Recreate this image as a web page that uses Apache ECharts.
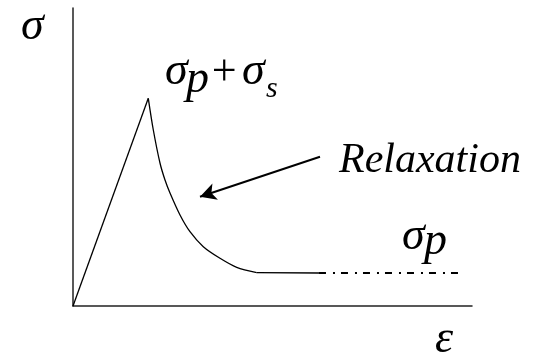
<!DOCTYPE html>
<html>
<head>
<meta charset="utf-8">
<script src="https://cdn.jsdelivr.net/npm/echarts@6/dist/echarts.min.js"></script>
<style>
  html, body { margin: 0; padding: 0; background: #fff; }
  #chart { width: 535px; height: 356px; }
</style>
</head>
<body>
<div id="chart"></div>
<script>
// Stress–strain sketch: elastic loading to a peak, relaxation decay, then the plateau.
const loading = [[0, 0], [18.87, 69.7]];
const relaxation = [
  [18.87, 69.7], [20.13, 59.06], [21.8, 47.99], [23.06, 42.28], [24.31, 37.92],
  [26.82, 30.54], [29.32, 24.93], [32.66, 19.9], [36.84, 16.01], [41.03, 12.99],
  [46.04, 11.2]
];
const plateau = [[46.04, 11.2], [61.65, 11.07]];
const plateauExtension = [[61.65, 11.07], [96.99, 11.07]];
const arrowFrom = [61.9, 50.1];
const arrowTo = [31.83, 36.68];

const chart = echarts.init(document.getElementById('chart'));

const axisCommon = {
  type: 'value', min: 0, max: 100,
  axisLine: { show: true, lineStyle: { color: '#222', width: 1.5 } },
  axisTick: { show: false }, axisLabel: { show: false }, splitLine: { show: false }
};

// Italic serif annotation placed by the top-left of its text box.
function note(x, y, text, size) {
  return {
    text: text, left: x, top: y, padding: 0,
    textStyle: {
      fontFamily: 'Liberation Serif', fontStyle: 'italic', fontWeight: 'normal',
      fontSize: size, color: '#000'
    }
  };
}

const option = {
  animation: false,
  grid: { left: 73, right: 63, top: 8, bottom: 50 },
  xAxis: axisCommon,
  yAxis: axisCommon,
  title: [
    note(21, 4, 'σ', 46),
    note(165, 49, 'σ', 46),
    note(186, 57, 'p', 46),
    note(209, 51, '+', 44),
    note(242, 49, 'σ', 46),
    note(266, 74, 's', 30),
    note(402, 214, 'σ', 46),
    note(424, 219, 'p', 46),
    note(435, 317, 'ε', 46),
    note(339, 140, 'Relaxation', 42)
  ],
  series: [
    { type: 'line', data: loading, symbol: 'none', lineStyle: { color: '#000', width: 1.3 } },
    { type: 'line', data: relaxation, symbol: 'none', smooth: 0.3, lineStyle: { color: '#000', width: 1.3 } },
    { type: 'line', data: plateau, symbol: 'none', lineStyle: { color: '#000', width: 1.3 } },
    {
      type: 'line', data: plateauExtension, symbol: 'none',
      lineStyle: { color: '#000', width: 2, type: [7, 7, 2, 6] },
      markLine: {
        silent: true,
        symbol: ['arrow', 'none'], symbolSize: [13, 16],
        label: { show: false },
        lineStyle: { color: '#000', width: 2, type: 'solid' },
        data: [[{ coord: arrowTo }, { coord: arrowFrom }]]
      }
    }
  ]
};

chart.setOption(option);

// Redraw once the italic face is ready so the labels use it.
if (document.fonts && document.fonts.load) {
  document.fonts.load('italic 42px "Liberation Serif"').then(function () {
    chart.clear();
    chart.setOption(option);
  });
}
</script>
</body>
</html>
